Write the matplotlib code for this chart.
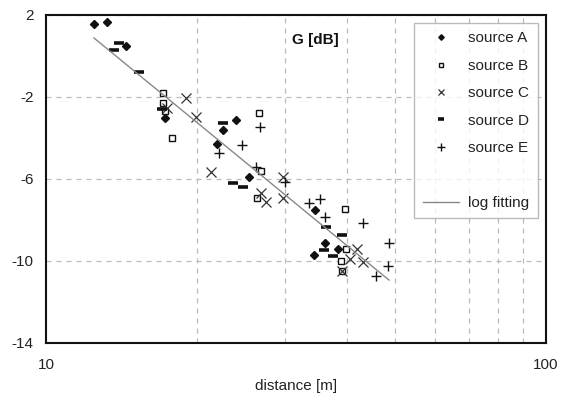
import matplotlib
matplotlib.use("Agg")
import matplotlib.pyplot as plt
from matplotlib.ticker import FixedLocator, NullFormatter, FixedFormatter

plt.rcParams['font.family'] = ['Liberation Sans', 'DejaVu Sans']

# ---- data ----
a_x = [12.47, 13.24, 14.45, 17.30, 21.98, 22.59, 23.99, 25.47, 34.51, 34.36, 36.14, 38.37]
a_y = [1.56, 1.66, 0.49, -3.02, -4.29, -3.61, -3.12, -5.90, -7.51, -9.71, -9.12, -9.41]

b_x = [17.14, 17.14, 17.30, 17.86, 26.67, 26.92, 26.42, 39.63, 39.81, 38.90, 39.08]
b_y = [-1.80, -2.29, -2.68, -4.00, -2.78, -5.61, -6.93, -7.46, -9.41, -10.00, -10.49]

c_x = [19.05, 19.95, 17.46, 21.38, 29.79, 26.92, 27.54, 29.79, 41.88, 40.55, 43.05, 39.08]
c_y = [-2.05, -2.98, -2.54, -5.66, -5.90, -6.68, -7.12, -6.93, -9.41, -9.90, -10.05, -10.49]

d_x = [14.00, 13.68, 15.35, 17.06, 22.59, 23.66, 24.77, 36.31, 39.08, 35.97, 37.50]
d_y = [0.63, 0.29, -0.78, -2.59, -3.27, -6.20, -6.39, -8.34, -8.73, -9.46, -9.76]

e_x = [26.79, 24.66, 22.18, 26.30, 30.06, 33.57, 35.32, 36.14, 43.05, 48.53, 48.31, 45.71]
e_y = [-3.46, -4.34, -4.73, -5.41, -6.15, -7.17, -6.98, -7.85, -8.15, -9.12, -10.24, -10.73]

fit_x = [12.47, 48.53]
fit_y = [0.88, -10.93]

series_labels = ["source A", "source B", "source C", "source D", "source E"]
fit_label = "log fitting"
y_ticks = [2, -2, -6, -10, -14]
x_major = [10, 100]
x_minor = [20, 30, 40, 50, 60, 70, 80, 90]

# ---- figure ----
fig = plt.figure(figsize=(5.61, 3.98), dpi=100)
ax = fig.add_axes([46/561, 1-343/398, 500/561, 328/398])
ax.set_xscale('log')
ax.set_xlim(10, 100)
ax.set_ylim(-14, 2)

mc = '#111111'
h = []
h.append(ax.plot(a_x, a_y, linestyle='none', marker='D', ms=4.0, color=mc, label=series_labels[0])[0])
h.append(ax.plot(b_x, b_y, linestyle='none', marker='s', ms=4.6, mfc='white', mec=mc, mew=1.0, label=series_labels[1])[0])
h.append(ax.plot(c_x, c_y, linestyle='none', marker='x', ms=6.5, mec='#333333', mew=0.9, label=series_labels[2])[0])
h.append(ax.plot(d_x, d_y, linestyle='none', marker='_', ms=6.5, mec=mc, mew=2.6, label=series_labels[3])[0])
h.append(ax.plot(e_x, e_y, linestyle='none', marker='+', ms=7.5, mec=mc, mew=1.0, label=series_labels[4])[0])
blank, = ax.plot([], [], linestyle='none', label=' ')
fit, = ax.plot(fit_x, fit_y, color='#888888', lw=1.0, label=fit_label)

# grid
ax.yaxis.set_major_locator(FixedLocator(y_ticks))
ax.set_yticklabels([str(v) for v in y_ticks])
ax.xaxis.set_major_locator(FixedLocator(x_major))
ax.xaxis.set_major_formatter(FixedFormatter([str(v) for v in x_major]))
ax.xaxis.set_minor_locator(FixedLocator(x_minor))
ax.xaxis.set_minor_formatter(NullFormatter())
ax.grid(True, which='major', axis='y', color='#bbbbbb', linestyle=(0, (4, 4)), lw=0.9)
ax.grid(True, which='minor', axis='x', color='#bbbbbb', linestyle=(0, (4, 4)), lw=0.9)
ax.set_axisbelow(True)

ax.tick_params(axis='both', which='both', length=0, labelsize=11, colors='#222222')
ax.tick_params(axis='y', pad=9)
ax.tick_params(axis='x', pad=11)
for s in ax.spines.values():
    s.set_linewidth(1.5)
    s.set_color('#111111')

ax.set_xlabel('distance [m]', fontsize=11, color='#222222', labelpad=5)
fig.text(315/561, 1-40/398, 'G [dB]', fontsize=11, fontweight='bold',
         ha='center', va='center', color='#111111')

leg = ax.legend(handles=h + [blank, fit], loc='upper right',
                bbox_to_anchor=(538/561, 1-23/398), bbox_transform=fig.transFigure,
                borderaxespad=0, markerscale=0.7,
                fontsize=11, frameon=True, fancybox=False, handlelength=2.4,
                handletextpad=0.6, labelspacing=0.88, borderpad=0.55)
leg.get_frame().set_edgecolor('#aaaaaa')
leg.get_frame().set_linewidth(1.0)
for t in leg.get_texts():
    t.set_color('#222222')

fig.savefig('out.png', dpi=100)
